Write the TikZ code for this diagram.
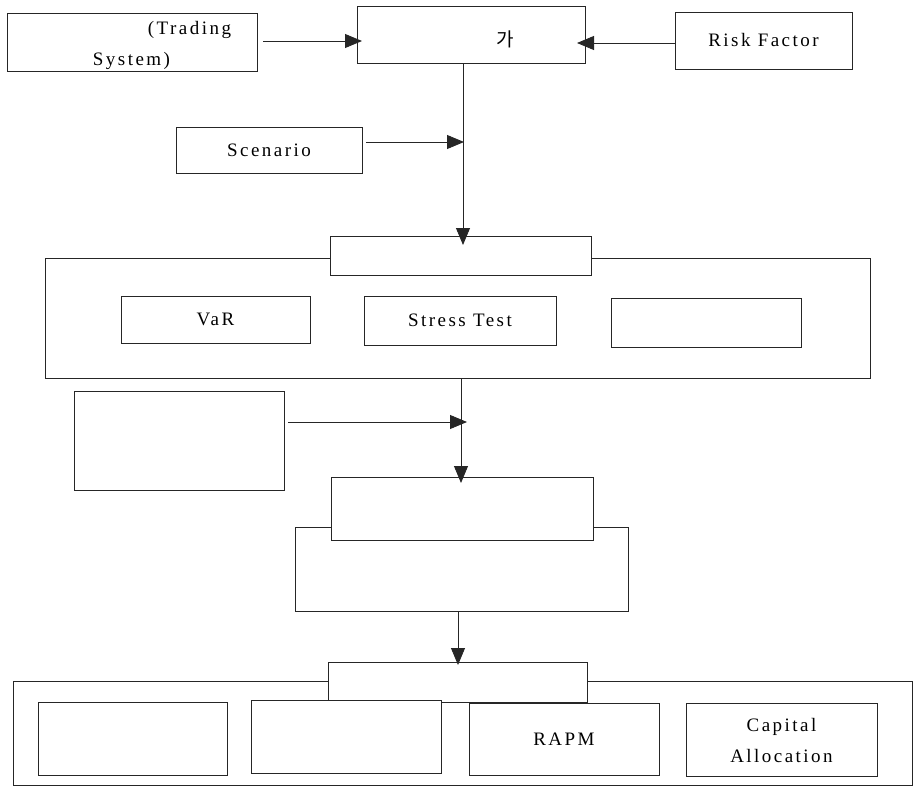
\documentclass[tikz,border=0pt]{standalone}
\usepackage{fontspec}
\setmainfont{Liberation Serif}[LetterSpace=13]
\newfontfamily\krfont{Noto Sans CJK KR}
\usetikzlibrary{arrows.meta}
\begin{document}
\begin{tikzpicture}[x=1pt,y=-1pt,
  bx/.style={draw=black!85, line width=0.9pt, fill=white, inner sep=0pt, outer sep=0pt,
    font=\fontsize{19}{31}\selectfont, align=center},
  txt/.style={inner sep=0pt, font=\fontsize{19}{31}\selectfont},
  conn/.style={draw=black!85, line width=0.9pt, -{Triangle[length=17pt,width=14pt]}}]
\useasboundingbox (0,0) rectangle (914,787);
% top row
\node[bx, minimum width=250pt, minimum height=58pt] (trading) at (132,42) {};
\node[txt] (tr1) at (189.5,30) {(Trading};
\node[txt] (tr2) at (131.5,61) {System)};
\node[bx, minimum width=228pt, minimum height=57pt] (ga) at (471,34.5) {};
\node[txt, font=\fontsize{19}{23}\krfont] (gatxt) at (505,39) {가};
\node[bx, minimum width=177pt, minimum height=57pt] (risk) at (763.5,40.5) {Risk Factor};
\node[bx, minimum width=186pt, minimum height=46pt] (scen) at (269,150) {Scenario};
% second group
\node[bx, minimum width=825pt, minimum height=120pt] (outer1) at (457.5,318) {};
\node[bx, minimum width=261pt, minimum height=39pt] (lab1) at (460.5,255.5) {};
\node[bx, minimum width=189pt, minimum height=47pt] (var) at (215.5,319.5) {VaR};
\node[bx, minimum width=192pt, minimum height=49pt] (stress) at (460,320.5) {Stress Test};
\node[bx, minimum width=190pt, minimum height=49pt] (third) at (706,322.5) {};
% third group
\node[bx, minimum width=210pt, minimum height=99pt] (left2) at (179,440.5) {};
\node[bx, minimum width=333pt, minimum height=84pt] (boxB) at (461.5,569) {};
\node[bx, minimum width=262pt, minimum height=63pt] (boxA) at (462,508.5) {};
% bottom group
\node[bx, minimum width=899pt, minimum height=104pt] (outer3) at (462.5,733) {};
\node[bx, minimum width=259pt, minimum height=40pt] (lab3) at (457.5,682) {};
\node[bx, minimum width=189pt, minimum height=73pt] (b1) at (132.5,738.5) {};
\node[bx, minimum width=190pt, minimum height=73pt] (b2) at (346,736.5) {};
\node[bx, minimum width=190pt, minimum height=72pt] (rapm) at (564,739.5) {RAPM};
\node[bx, minimum width=191pt, minimum height=73pt] (cap) at (781.5,740) {Capital\\Allocation};
% connectors
\coordinate (t1) at (263,41);
\coordinate (t2) at (362,41);
\draw[conn] (t1) -- (t2);
\coordinate (r2) at (577,43);
\draw[conn] (risk.west |- r2) -- (r2);
\coordinate (v1) at (463,63);
\coordinate (v2) at (463,245);
\draw[conn] (v1) -- (v2);
\coordinate (s1) at (366,142);
\coordinate (s2) at (464,142);
\draw[conn] (s1) -- (s2);
\coordinate (w1) at (461,378);
\coordinate (w2) at (461,483);
\draw[conn] (w1) -- (w2);
\coordinate (l1) at (288,422);
\coordinate (l2) at (467,422);
\draw[conn] (l1) -- (l2);
\coordinate (u1) at (458,611);
\coordinate (u2) at (458,665);
\draw[conn] (u1) -- (u2);
\end{tikzpicture}
\end{document}
